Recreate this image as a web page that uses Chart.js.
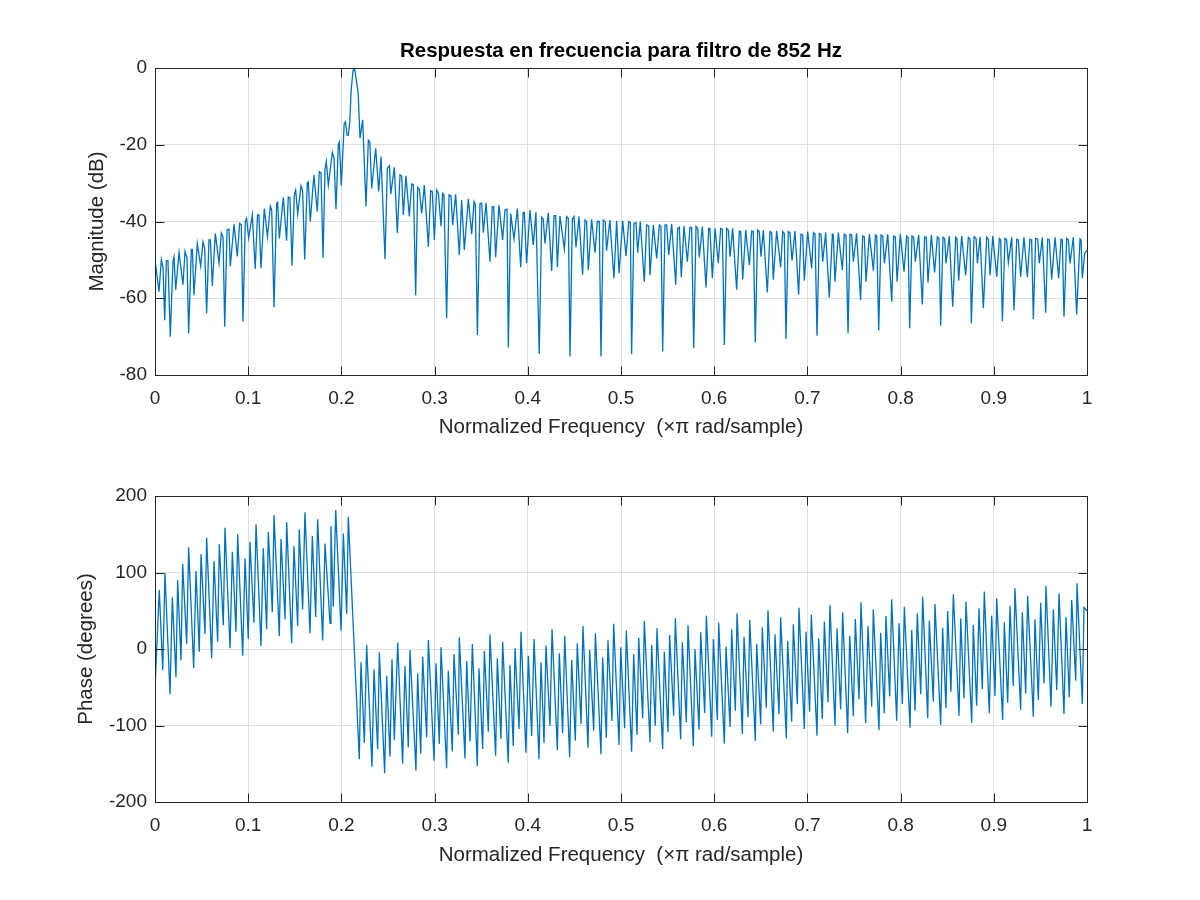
<!DOCTYPE html>
<html>
<head>
<meta charset="utf-8">
<title>Respuesta en frecuencia para filtro de 852 Hz</title>
<script src="https://cdn.jsdelivr.net/npm/chart.js@4.4.1/dist/chart.umd.min.js"></script>
<style>
  html, body { margin: 0; padding: 0; background: #ffffff; }
  #fig { position: relative; width: 1200px; height: 900px; background: #ffffff; overflow: hidden; }
  #topCanvas { position: absolute; left: 0; top: 0; }
  #botCanvas { position: absolute; left: 0; top: 450px; }
  #figTitle { position: absolute; left: 0; top: 38px; width: 1242px; text-align: center;
    font-family: 'Liberation Sans', Arial, Helvetica, sans-serif; font-weight: bold; font-size: 20.5px;
    line-height: 24px; color: #000000; }
</style>
</head>
<body>
<div id="fig">
  <canvas id="topCanvas" width="1200" height="450"></canvas>
  <canvas id="botCanvas" width="1200" height="450"></canvas>
  <div id="figTitle">Respuesta en frecuencia para filtro de 852 Hz</div>
</div>
<script>
// ---------------- data ----------------
const chartTitle = 'Respuesta en frecuencia para filtro de 852 Hz';
const xAxisLabel = 'Normalized Frequency  (×π rad/sample)';
const magAxisLabel = 'Magnitude (dB)';
const phaseAxisLabel = 'Phase (degrees)';
const freqTicks = [0, 0.1, 0.2, 0.3, 0.4, 0.5, 0.6, 0.7, 0.8, 0.9, 1];
const magTicks = [-80, -60, -40, -20, 0];
const phaseTicks = [-200, -100, 0, 100, 200];

// magnitude response: [normalized frequency, dB]
const magnitudeData = [
[0,-50.0],[0.0043,-58.3],[0.0068,-49.9],[0.0086,-52.0],[0.0104,-65.7],[0.0122,-50.2],[0.0139,-50.2],[0.0164,-70.0],
[0.0193,-50.4],[0.0204,-49.2],[0.0222,-57.8],[0.0258,-48.1],[0.0300,-56.5],[0.0322,-47.8],[0.0343,-49.5],[0.0361,-69.1],
[0.0390,-47.3],[0.0401,-47.3],[0.0418,-59.2],[0.0454,-45.7],[0.0490,-51.6],[0.0515,-45.3],[0.0533,-47.0],[0.0554,-63.9],
[0.0579,-44.8],[0.0594,-44.8],[0.0615,-56.8],[0.0647,-43.1],[0.0687,-50.9],[0.0712,-43.0],[0.0730,-44.0],[0.0748,-67.4],
[0.0773,-42.2],[0.0794,-42.0],[0.0808,-51.7],[0.0848,-40.7],[0.0883,-49.1],[0.0908,-40.5],[0.0926,-40.8],[0.0944,-66.1],
[0.0969,-40.1],[0.0983,-39.2],[0.1005,-44.3],[0.1044,-38.3],[0.1075,-52.4],[0.1100,-38.3],[0.1115,-38.3],[0.1137,-52.2],
[0.1173,-36.6],[0.1207,-44.0],[0.1237,-36.0],[0.1252,-37.0],[0.1277,-62.4],[0.1305,-35.3],[0.1316,-35.0],[0.1334,-44.4],
[0.1377,-33.7],[0.1412,-45.0],[0.1430,-33.6],[0.1448,-33.8],[0.1470,-51.5],[0.1495,-33.0],[0.1509,-31.8],[0.1531,-38.0],
[0.1567,-30.7],[0.1584,-32.0],[0.1606,-49.9],[0.1634,-29.9],[0.1645,-29.7],[0.1666,-40.0],[0.1705,-27.9],[0.1741,-37.4],
[0.1763,-27.0],[0.1781,-27.3],[0.1803,-49.6],[0.1824,-26.4],[0.1838,-24.4],[0.1860,-30.5],[0.1903,-22.0],[0.1921,-23.5],
[0.1942,-36.8],[0.1967,-20.0],[0.1978,-19.3],[0.1999,-30.7],[0.2030,-14.4],[0.2044,-14.0],[0.2060,-17.5],[0.2074,-17.5],
[0.2090,-14.0],[0.2105,-5.7],[0.2125,-0.6],[0.2135,0],[0.2145,-0.6],[0.2180,-6.6],[0.2200,-18.3],[0.2228,-13.5],
[0.2264,-36.1],[0.2289,-18.8],[0.2305,-19.2],[0.2325,-31.4],[0.2368,-20.9],[0.2400,-32.2],[0.2425,-23.1],[0.2468,-49.8],
[0.2493,-26.1],[0.2515,-25.5],[0.2530,-32.8],[0.2568,-25.9],[0.2600,-43.0],[0.2629,-27.9],[0.2647,-28.2],[0.2664,-38.3],
[0.2693,-28.1],[0.2729,-38.7],[0.2754,-30.2],[0.2772,-30.4],[0.2797,-59.2],[0.2818,-31.1],[0.2836,-31.6],[0.2861,-37.9],
[0.2890,-30.5],[0.2933,-46.6],[0.2958,-32.0],[0.2976,-32.2],[0.2997,-44.8],[0.3022,-31.8],[0.3040,-32.5],[0.3069,-41.2],
[0.3086,-32.7],[0.3100,-33.0],[0.3129,-65.2],[0.3155,-33.1],[0.3176,-33.3],[0.3194,-40.9],[0.3226,-32.9],[0.3265,-48.7],
[0.3290,-34.4],[0.3319,-47.4],[0.3362,-34.1],[0.3398,-43.3],[0.3423,-34.8],[0.3437,-35.5],[0.3459,-69.6],[0.3487,-35.3],
[0.3505,-35.2],[0.3523,-42.9],[0.3552,-35.1],[0.3594,-50.5],[0.3619,-36.1],[0.3634,-36.1],[0.3655,-49.3],[0.3691,-35.7],
[0.3730,-44.8],[0.3755,-37.0],[0.3777,-36.8],[0.3791,-72.8],[0.3816,-37.9],[0.3852,-44.6],[0.3888,-36.6],[0.3924,-51.9],
[0.3951,-37.6],[0.3963,-37.6],[0.3987,-50.9],[0.4023,-37.0],[0.4059,-46.1],[0.4087,-37.6],[0.4123,-74.5],[0.4149,-38.9],
[0.4166,-39.4],[0.4184,-45.7],[0.4220,-37.7],[0.4256,-52.9],[0.4281,-38.5],[0.4299,-38.5],[0.4317,-51.9],[0.4345,-38.6],
[0.4392,-47.2],[0.4417,-38.7],[0.4435,-39.2],[0.4453,-75.2],[0.4478,-39.4],[0.4496,-38.7],[0.4517,-46.7],[0.4549,-38.7],
[0.4588,-53.9],[0.4614,-39.6],[0.4631,-40.0],[0.4649,-52.6],[0.4685,-39.4],[0.4721,-48.1],[0.4746,-40.0],[0.4767,-40.0],
[0.4785,-75.2],[0.4810,-39.6],[0.4831,-40.0],[0.4845,-47.6],[0.4881,-39.6],[0.4924,-54.8],[0.4953,-39.8],[0.4979,-53.5],
[0.5018,-39.8],[0.5054,-49.0],[0.5083,-40.0],[0.5100,-40.3],[0.5114,-74.5],[0.5139,-40.5],[0.5161,-40.3],[0.5179,-48.1],
[0.5207,-40.0],[0.5250,-55.7],[0.5275,-40.9],[0.5297,-41.2],[0.5311,-54.0],[0.5347,-40.9],[0.5383,-49.6],[0.5411,-40.9],
[0.5429,-41.3],[0.5447,-73.9],[0.5472,-40.9],[0.5490,-40.9],[0.5512,-48.7],[0.5544,-40.6],[0.5587,-56.5],[0.5608,-41.8],
[0.5626,-41.5],[0.5647,-54.5],[0.5676,-41.2],[0.5712,-50.5],[0.5740,-41.5],[0.5758,-41.6],[0.5780,-73.0],[0.5805,-41.3],
[0.5823,-41.8],[0.5840,-49.3],[0.5873,-41.3],[0.5912,-57.2],[0.5941,-41.8],[0.5954,-41.8],[0.5980,-54.8],[0.6009,-41.8],
[0.6044,-50.9],[0.6069,-41.8],[0.6087,-42.0],[0.6109,-72.2],[0.6134,-41.8],[0.6152,-42.2],[0.6170,-49.2],[0.6198,-41.8],
[0.6241,-57.8],[0.6270,-42.5],[0.6284,-42.6],[0.6306,-55.1],[0.6338,-42.2],[0.6377,-51.3],[0.6402,-42.5],[0.6419,-42.6],
[0.6441,-71.5],[0.6466,-42.2],[0.6484,-42.6],[0.6502,-49.2],[0.6527,-42.2],[0.6570,-58.5],[0.6599,-42.6],[0.6616,-42.9],
[0.6634,-55.2],[0.6670,-42.4],[0.6713,-51.9],[0.6735,-42.6],[0.6752,-43.1],[0.6770,-70.6],[0.6795,-42.6],[0.6813,-42.9],
[0.6835,-50.2],[0.6867,-42.5],[0.6906,-59.1],[0.6931,-43.3],[0.6949,-43.5],[0.6967,-55.4],[0.7003,-42.6],[0.7046,-52.2],
[0.7064,-42.9],[0.7082,-43.3],[0.7103,-69.8],[0.7128,-43.1],[0.7146,-43.3],[0.7164,-50.5],[0.7196,-42.9],[0.7235,-59.8],
[0.7268,-43.3],[0.7278,-43.5],[0.7296,-55.7],[0.7332,-42.9],[0.7375,-52.6],[0.7396,-43.3],[0.7414,-43.6],[0.7436,-69.1],
[0.7457,-43.3],[0.7475,-43.5],[0.7493,-50.5],[0.7528,-43.1],[0.7571,-60.5],[0.7593,-43.8],[0.7611,-44.0],[0.7629,-55.7],
[0.7665,-43.3],[0.7708,-52.8],[0.7730,-43.5],[0.7744,-43.8],[0.7765,-68.4],[0.7790,-43.5],[0.7808,-43.8],[0.7826,-50.9],
[0.7862,-43.3],[0.7905,-60.9],[0.7926,-43.8],[0.7944,-44.0],[0.7962,-55.7],[0.7997,-43.3],[0.8037,-53.1],[0.8065,-43.8],
[0.8080,-44.1],[0.8097,-67.8],[0.8122,-43.8],[0.8140,-44.1],[0.8158,-50.5],[0.8194,-43.5],[0.8233,-61.6],[0.8258,-44.0],
[0.8276,-44.1],[0.8294,-55.9],[0.8330,-43.5],[0.8365,-53.3],[0.8394,-44.0],[0.8412,-44.4],[0.8430,-67.1],[0.8455,-44.1],
[0.8473,-44.5],[0.8487,-50.9],[0.8523,-43.8],[0.8559,-62.2],[0.8591,-44.1],[0.8605,-44.5],[0.8623,-55.4],[0.8655,-43.8],
[0.8698,-54.0],[0.8727,-44.1],[0.8745,-44.6],[0.8759,-66.5],[0.8788,-44.0],[0.8810,-44.4],[0.8824,-50.9],[0.8853,-44.0],
[0.8888,-62.6],[0.8924,-44.1],[0.8942,-44.6],[0.8960,-54.0],[0.8989,-43.8],[0.9032,-54.4],[0.9060,-44.4],[0.9074,-44.8],
[0.9092,-66.0],[0.9120,-44.4],[0.9138,-44.8],[0.9156,-50.7],[0.9192,-44.1],[0.9217,-63.1],[0.9246,-44.6],[0.9263,-44.8],
[0.9288,-54.4],[0.9324,-44.1],[0.9360,-54.5],[0.9388,-44.6],[0.9406,-44.8],[0.9424,-65.4],[0.9449,-44.4],[0.9471,-44.6],
[0.9488,-50.9],[0.9521,-44.2],[0.9557,-63.8],[0.9578,-44.6],[0.9596,-44.8],[0.9621,-55.1],[0.9657,-44.1],[0.9696,-54.8],
[0.9721,-44.6],[0.9735,-44.8],[0.9753,-64.8],[0.9782,-44.4],[0.9800,-44.8],[0.9818,-50.9],[0.9853,-44.1],[0.9889,-64.2],
[0.9925,-44.5],[0.9936,-44.8],[0.9950,-54.8],[0.9975,-48.3],[1.0,-47.5]
];

// phase response: [normalized frequency, degrees]
const phaseData = [
[0,-52],[0.0046,77],[0.0083,-27.5],[0.0107,99],[0.0161,-59],[0.0186,67.5],[0.0225,-37],[0.0243,90],[0.0279,-15],[0.0297,111],
[0.0340,6.5],[0.0361,133],[0.0415,-25],[0.0440,102],[0.0475,-3.5],[0.0494,124],[0.0536,19.6],[0.0554,145.5],[0.0608,-12],[0.0633,115],
[0.0672,9.6],[0.0690,137],[0.0733,31],[0.0751,158.6],[0.0805,1],[0.0830,127],[0.0869,22.6],[0.0887,150],[0.0941,-8.7],[0.0966,118.5],
[0.1001,13],[0.1019,140],[0.1062,34.4],[0.1084,163],[0.1137,4],[0.1162,131.6],[0.1198,25.7],[0.1216,153],[0.1259,48],[0.1277,175],
[0.1334,17],[0.1352,143.8],[0.1395,38.8],[0.1413,165.6],[0.1466,7.4],[0.1491,134.6],[0.1531,30],[0.1548,156.4],[0.1584,51.8],[0.1609,178.6],
[0.1663,20.5],[0.1688,147.7],[0.1724,42],[0.1745,169.5],[0.1799,11],[0.1824,138],[0.1878,33.6],[0.1888,160.8],[0.1913,55.3],[0.1939,181.7],
[0.1996,24],[0.2021,151],[0.2057,46],[0.2074,173],[0.2192,-144],[0.2210,-17.4],[0.2246,-122.5],[0.2271,5.2],[0.2328,-154],[0.2350,-26.6],
[0.2389,-131],[0.2407,-4.4],[0.2464,-162.5],[0.2486,-35.3],[0.2521,-140.7],[0.2543,-13.5],[0.2568,-119],[0.2604,8.3],[0.2657,-150],[0.2682,-22.2],
[0.2718,-128.5],[0.2736,-1.3],[0.2800,-159],[0.2818,-31.8],[0.2851,-137],[0.2872,-10],[0.2915,-115.5],[0.2933,11.8],[0.2994,-146],[0.3015,-18.7],
[0.3051,-124],[0.3069,2.2],[0.3129,-156],[0.3147,-28.4],[0.3190,-134],[0.3208,-6.5],[0.3255,-112],[0.3265,15.3],[0.3326,-143],[0.3344,-15.7],
[0.3380,-121],[0.3405,6.5],[0.3458,-153],[0.3476,-25.3],[0.3516,-130.7],[0.3534,-2.6],[0.3577,-108],[0.3594,19.2],[0.3655,-139.5],[0.3673,-12.2],
[0.3712,-117.6],[0.3730,9.6],[0.3790,-148.6],[0.3809,-21],[0.3844,-126.8],[0.3863,0.9],[0.3906,-104.6],[0.3927,22.6],[0.3980,-135.5],[0.4006,-8.7],
[0.4041,-113.7],[0.4067,13],[0.4120,-144],[0.4142,-17.4],[0.4174,-123],[0.4195,4.4],[0.4238,-100.6],[0.4260,25.7],[0.4317,-132],[0.4338,-5.6],
[0.4374,-110.2],[0.4396,17.0],[0.4449,-141.6],[0.4471,-14.4],[0.4510,-119.8],[0.4531,7.4],[0.4571,-98.0],[0.4592,30.1],[0.4646,-129.0],[0.4664,-1.3],
[0.4707,-106.7],[0.4725,20.5],[0.4785,-137.7],[0.4803,-10.9],[0.4843,-115.9],[0.4860,11.3],[0.4903,-94.1],[0.4921,33.1],[0.4979,-125.5],[0.4997,2.2],
[0.5039,-103.7],[0.5057,24.0],[0.5114,-134.2],[0.5136,-7.0],[0.5172,-112.4],[0.5190,14.8],[0.5233,-90.6],[0.5250,36.6],[0.5311,-122.0],[0.5329,5.2],
[0.5368,-100.2],[0.5386,27.0],[0.5447,-130.7],[0.5465,-3.5],[0.5504,-108.9],[0.5522,18.3],[0.5565,-87.1],[0.5583,40.1],[0.5640,-118.1],[0.5658,8.7],
[0.5701,-95.8],[0.5719,30.9],[0.5776,-127.2],[0.5794,-0.4],[0.5837,-105.4],[0.5855,21.8],[0.5898,-83.7],[0.5916,43.6],[0.5973,-114.6],[0.5991,12.6],
[0.6034,-92.8],[0.6048,34.4],[0.6109,-123.7],[0.6127,3.1],[0.6170,-101.9],[0.6187,25.7],[0.6227,-80.6],[0.6245,46.6],[0.6302,-111.1],[0.6320,16.1],
[0.6363,-89.3],[0.6381,37.9],[0.6441,-120.3],[0.6456,6.5],[0.6499,-98.5],[0.6516,28.3],[0.6559,-76.7],[0.6577,50.5],[0.6634,-108.0],[0.6652,19.2],
[0.6695,-85.4],[0.6713,41.4],[0.6774,-116.8],[0.6788,10.5],[0.6831,-95.0],[0.6849,32.3],[0.6892,-72.3],[0.6910,54.0],[0.6967,-104.6],[0.6985,22.7],
[0.7024,-81.9],[0.7042,44.9],[0.7103,-113.3],[0.7121,13.9],[0.7160,-91.5],[0.7182,35.7],[0.7221,-69.7],[0.7242,57.5],[0.7296,-100.2],[0.7318,26.6],
[0.7357,-78.9],[0.7378,47.9],[0.7432,-109.8],[0.7454,17.4],[0.7493,-88.0],[0.7514,39.2],[0.7554,-65.8],[0.7575,61.0],[0.7625,-97],[0.7650,30],
[0.7690,-75],[0.7707,52],[0.7768,-106],[0.7786,21.3],[0.7825,-84],[0.7843,43],[0.7883,-62],[0.7904,65],[0.7958,-93.7],[0.7983,33.6],
[0.8019,-72],[0.8040,55.3],[0.8101,-103],[0.8119,24.8],[0.8155,-80.6],[0.8179,46.6],[0.8216,-59],[0.8237,68.4],[0.8291,-90.6],[0.8308,37],
[0.8351,-68.9],[0.8369,58.8],[0.8430,-99.3],[0.8451,27.9],[0.8487,-77.5],[0.8505,49.7],[0.8540,-55.8],[0.8566,71.5],[0.8627,-87.2],[0.8645,40],
[0.8680,-64.5],[0.8702,61.8],[0.8763,-96.3],[0.8780,31.4],[0.8816,-74],[0.8841,53],[0.8877,-52.3],[0.8898,75],[0.8952,-84],[0.8977,43.6],
[0.9013,-61.4],[0.9031,66.2],[0.9095,-92.8],[0.9113,34.8],[0.9149,-70.2],[0.9174,56.6],[0.9209,-48.4],[0.9227,79.3],[0.9288,-79.7],[0.9306,48],
[0.9342,-58],[0.9363,69.7],[0.9424,-88.5],[0.9442,38.8],[0.9478,-66.7],[0.9503,60.5],[0.9539,-44.9],[0.9560,82.4],[0.9614,-75.4],[0.9639,51.8],
[0.9675,-53.6],[0.9700,72.8],[0.9753,-85],[0.9775,42.2],[0.9810,-63.2],[0.9836,64],[0.9879,-41.4],[0.9893,85.8],[0.9950,-72],[0.9968,54.4],
[1.0,50]
];

// ---------------- styling ----------------
const FONT = "'Liberation Sans', Arial, Helvetica, sans-serif";
const AXIS_COLOR = '#262626';
const GRID_COLOR = '#dfdfdf';
const LINE_COLOR = '#0072BD';

document.getElementById('figTitle').textContent = chartTitle;

// MATLAB-like box with inward tick marks on all four sides (positions from the scales)
const boxPlugin = {
  id: 'matlabBox',
  afterDatasetsDraw(chart) {
    const { ctx, chartArea: a, scales: { x, y } } = chart;
    const L = 9;
    ctx.save();
    ctx.strokeStyle = AXIS_COLOR;
    ctx.lineWidth = 1;
    const l = Math.round(a.left) + 0.5, r = Math.round(a.right) + 0.5;
    const t = Math.round(a.top) + 0.5, b = Math.round(a.bottom) + 0.5;
    ctx.strokeRect(l, t, r - l, b - t);
    ctx.beginPath();
    x.ticks.forEach(tk => {
      const px = Math.round(x.getPixelForValue(tk.value)) + 0.5;
      ctx.moveTo(px, b); ctx.lineTo(px, b - L);
      ctx.moveTo(px, t); ctx.lineTo(px, t + L);
    });
    y.ticks.forEach(tk => {
      const py = Math.round(y.getPixelForValue(tk.value)) + 0.5;
      ctx.moveTo(l, py); ctx.lineTo(l + L, py);
      ctx.moveTo(r, py); ctx.lineTo(r - L, py);
    });
    ctx.stroke();
    ctx.restore();
  }
};

function fmtTick(v) { return String(Number(Number(v).toFixed(2))); }

function makeChart(canvasId, points, yTicks, yLabel, opts) {
  const yMin = yTicks[0], yMax = yTicks[yTicks.length - 1];
  const yStep = yTicks[1] - yTicks[0];
  return new Chart(document.getElementById(canvasId), {
    type: 'line',
    data: {
      datasets: [{
        data: points.map(([f, v]) => ({ x: f, y: v })),
        borderColor: LINE_COLOR,
        borderWidth: 1.3,
        pointRadius: 0,
        tension: 0,
        fill: false
      }]
    },
    options: {
      responsive: false,
      animation: false,
      devicePixelRatio: 1,
      events: [],
      layout: { padding: { left: 0, right: 113, top: opts.padTop, bottom: 0 } },
      plugins: { legend: { display: false }, tooltip: { enabled: false }, title: { display: false } },
      scales: {
        x: {
          type: 'linear',
          min: freqTicks[0], max: freqTicks[freqTicks.length - 1],
          afterBuildTicks: s => { s.ticks = freqTicks.map(v => ({ value: v })); },
          ticks: { callback: v => fmtTick(v), color: AXIS_COLOR, font: { family: FONT, size: 19 },
                   padding: 12, maxRotation: 0, autoSkip: false },
          grid: { color: GRID_COLOR, drawTicks: false, lineWidth: 1 },
          border: { display: false },
          title: { display: true, text: xAxisLabel, color: AXIS_COLOR,
                   font: { family: FONT, size: 20.5 }, padding: { top: 0, bottom: opts.xTitlePad } },
          afterFit: s => { s.height = opts.xHeight; }
        },
        y: {
          type: 'linear',
          min: yMin, max: yMax,
          afterBuildTicks: s => { s.ticks = yTicks.map(v => ({ value: v })); },
          ticks: { stepSize: yStep, callback: v => fmtTick(v), color: AXIS_COLOR,
                   font: { family: FONT, size: 19 }, padding: 8, autoSkip: false },
          grid: { color: GRID_COLOR, drawTicks: false, lineWidth: 1 },
          border: { display: false },
          title: { display: true, text: yLabel, color: AXIS_COLOR,
                   font: { family: FONT, size: 20.5 }, padding: { top: opts.yTitlePad, bottom: 0 } },
          afterFit: s => { s.width = 155; }
        }
      }
    },
    plugins: [boxPlugin]
  });
}

makeChart('topCanvas', magnitudeData, magTicks, magAxisLabel,
  { padTop: 68, xHeight: 75, xTitlePad: 10, yTitlePad: 85 });
makeChart('botCanvas', phaseData, phaseTicks, phaseAxisLabel,
  { padTop: 46, xHeight: 98, xTitlePad: 32, yTitlePad: 74 });
</script>
</body>
</html>
